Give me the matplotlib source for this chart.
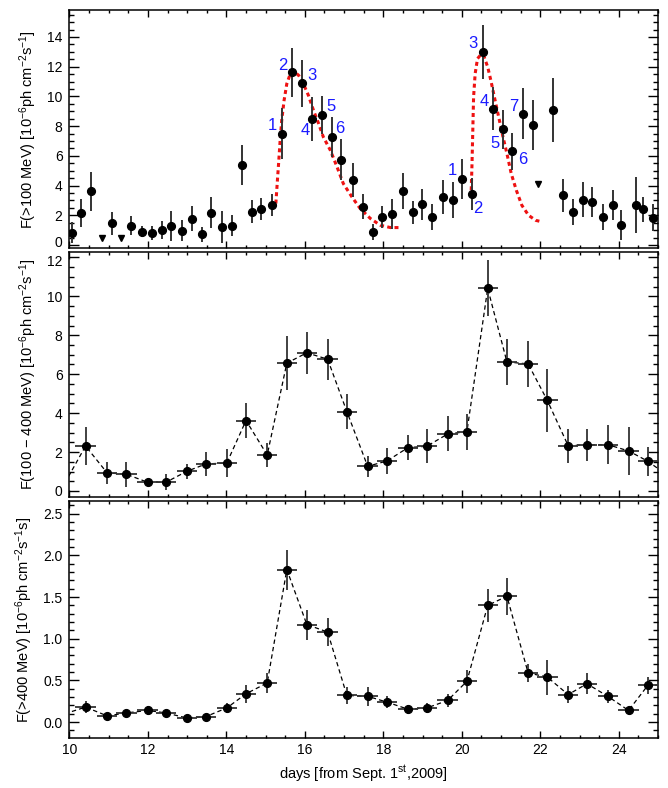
import matplotlib
matplotlib.use("Agg")
import matplotlib.pyplot as plt
from matplotlib.ticker import MultipleLocator
from matplotlib.transforms import ScaledTranslation

plt.rcParams['font.family'] = ['Liberation Sans', 'DejaVu Sans']
plt.rcParams['mathtext.fontset'] = 'custom'
plt.rcParams['mathtext.rm'] = 'Liberation Sans'
plt.rcParams['mathtext.it'] = 'Liberation Sans'

# ---------------- data: top panel F(>100 MeV) ----------------
t_x = [10.06, 10.29, 10.56, 11.08, 11.57, 11.84, 12.11, 12.35, 12.60, 12.87,
       13.13, 13.37, 13.61, 13.89, 14.15, 14.39, 14.64, 14.89, 15.17, 15.42,
       15.68, 15.92, 16.18, 16.44, 16.68, 16.93, 17.22, 17.49, 17.73, 17.96,
       18.23, 18.50, 18.75, 18.98, 19.25, 19.52, 19.78, 20.01, 20.27, 20.53,
       20.80, 21.04, 21.28, 21.55, 21.82, 22.32, 22.57, 22.84, 23.08, 23.33,
       23.59, 23.86, 24.07, 24.43, 24.61, 24.88]
t_y = [0.83, 2.15, 3.61, 1.46, 1.30, 0.90, 0.80, 0.99, 1.26, 0.97,
       1.78, 0.72, 2.18, 1.21, 1.30, 5.38, 2.24, 2.40, 2.67, 7.50,
       11.62, 10.88, 8.48, 8.73, 7.25, 5.75, 4.40, 2.58, 0.85, 1.86,
       2.09, 3.64, 2.20, 2.74, 1.89, 3.23, 3.05, 4.42, 3.41, 12.99,
       9.18, 7.79, 6.31, 8.82, 8.08, 9.09, 3.34, 2.20, 3.05, 2.92,
       1.89, 2.69, 1.35, 2.69, 2.40, 1.84]
t_err = [0.70, 0.95, 1.30, 0.76, 0.62, 0.36, 0.45, 0.60, 1.00, 0.73,
         0.81, 0.50, 1.06, 1.10, 0.73, 1.32, 0.76, 0.75, 0.73, 1.69,
         1.65, 1.57, 1.50, 1.29, 1.35, 1.40, 1.15, 0.84, 0.53, 0.73,
         1.03, 1.20, 0.78, 1.03, 0.87, 1.12, 1.22, 1.35, 1.09, 1.79,
         1.46, 1.31, 1.25, 1.72, 1.71, 2.13, 1.12, 0.87, 1.20, 1.01,
         0.85, 1.01, 1.03, 1.88, 0.84, 0.90]
ul_x = [10.82, 11.32, 21.94]
ul_y = [0.50, 0.50, 4.08]

# flare model curves
c1_x = [15.26, 15.30, 15.33, 15.37, 15.41, 15.47, 15.54, 15.63, 15.71, 15.84,
        15.96, 16.09, 16.22, 16.35, 16.47, 16.65, 16.82, 16.98, 17.20, 17.41,
        17.67, 17.92, 18.18, 18.43]
c1_y = [2.79, 4.35, 5.48, 7.05, 8.39, 9.73, 10.86, 11.53, 11.71, 11.42,
        10.86, 10.07, 9.06, 8.17, 7.27, 6.37, 5.25, 4.13, 3.23, 2.45,
        1.78, 1.33, 1.17, 1.17]
c2_x = [20.24, 20.26, 20.28, 20.30, 20.34, 20.40, 20.49, 20.57, 20.66, 20.74,
        20.83, 20.94, 21.05, 21.15, 21.26, 21.39, 21.53, 21.70, 21.88, 22.05]
c2_y = [3.68, 5.48, 7.72, 9.96, 11.53, 12.54, 12.83, 12.65, 11.98, 11.08,
        9.96, 8.61, 7.27, 6.15, 4.80, 3.68, 2.67, 2.00, 1.66, 1.55]

# numbered annotations
lab_text = ['1', '2', '3', '4', '5', '6',
            '1', '2', '3', '4', '5', '6', '7']
lab_x = [15.17, 15.43, 16.19, 16.02, 16.67, 16.90,
         19.77, 20.40, 20.28, 20.56, 20.84, 21.55, 21.32]
lab_y = [8.05, 12.09, 11.42, 7.72, 9.35, 7.87,
         4.98, 2.45, 13.55, 9.69, 6.86, 5.77, 9.33]

# ---------------- data: middle / bottom panels ----------------
b_x = [10.41, 10.96, 11.45, 11.99, 12.46, 12.99, 13.48, 14.01, 14.50, 15.04,
       15.54, 16.05, 16.58, 17.07, 17.60, 18.09, 18.63, 19.11, 19.64, 20.13,
       20.66, 21.15, 21.69, 22.18, 22.71, 23.19, 23.72, 24.25, 24.74]
b_xerr = 0.26
m_y = [2.31, 0.93, 0.86, 0.45, 0.45, 1.01, 1.39, 1.44, 3.62, 1.85,
       6.57, 7.10, 6.77, 4.08, 1.27, 1.54, 2.23, 2.30, 2.93, 3.05,
       10.41, 6.63, 6.53, 4.65, 2.33, 2.37, 2.38, 2.06, 1.53]
m_err = [0.99, 0.56, 0.64, 0.15, 0.40, 0.37, 0.62, 0.71, 0.92, 0.61,
         1.40, 1.09, 1.05, 0.88, 0.53, 0.65, 0.66, 0.88, 0.90, 0.93,
         1.44, 1.20, 1.18, 1.60, 0.87, 0.84, 1.00, 1.25, 0.74]
h_y = [0.18, 0.075, 0.11, 0.14, 0.11, 0.05, 0.067, 0.17, 0.34, 0.47,
       1.83, 1.17, 1.08, 0.32, 0.31, 0.24, 0.155, 0.17, 0.26, 0.49,
       1.40, 1.51, 0.59, 0.54, 0.33, 0.46, 0.31, 0.14, 0.44]
h_err = [0.07, 0.03, 0.03, 0.05, 0.03, 0.02, 0.025, 0.065, 0.105, 0.115,
         0.24, 0.18, 0.17, 0.105, 0.115, 0.075, 0.055, 0.06, 0.08, 0.14,
         0.20, 0.22, 0.11, 0.21, 0.10, 0.125, 0.075, 0.03, 0.105]
# neighbouring bins just outside the plotted range (line continues to edge)
edge_x = [9.88, 25.27]
m_edge = [0.40, 0.76]
h_edge = [0.10, 0.45]

top_ticks = [0, 2, 4, 6, 8, 10, 12, 14]
mid_ticks = [0, 2, 4, 6, 8, 10, 12]

# ---------------- figure ----------------
fig = plt.figure(figsize=(6.68, 7.88), dpi=100)
ax1 = fig.add_axes([0.104, 0.685, 0.881, 0.302])
ax2 = fig.add_axes([0.104, 0.369, 0.881, 0.311])
ax3 = fig.add_axes([0.104, 0.0635, 0.881, 0.3005])

ecol = '#333333'
ms = 5.6

# top
ax1.errorbar(t_x, t_y, yerr=t_err, xerr=0.06, fmt='o', color='black', ms=ms,
             ecolor=ecol, elinewidth=1.4, capsize=0, zorder=3)
ax1.plot(ul_x, ul_y, 'v', color='black', ms=5, zorder=3)
ax1.plot(c1_x, c1_y, color='#ee1111', lw=2.2, dashes=(1.3, 1.1), zorder=2)
ax1.plot(c2_x, c2_y, color='#ee1111', lw=2.2, dashes=(1.3, 1.1), zorder=2)
for s, x, y in zip(lab_text, lab_x, lab_y):
    ax1.text(x, y, s, color='#1a1aff', fontsize=12, ha='center', va='center')
ax1.set_ylim(-0.22, 15.8)
ax1.set_yticks(top_ticks)
ax1.yaxis.set_minor_locator(MultipleLocator(0.5))
ax1.set_ylabel('F(>100 MeV) [10$^{-6}$ph cm$^{-2}$s$^{-1}$]', fontsize=10.5, labelpad=6)

# middle
mx = [edge_x[0]] + b_x + [edge_x[1]]
ax2.plot(mx, [m_edge[0]] + m_y + [m_edge[1]], color='black', lw=0.9,
         dashes=(3.5, 2.5), zorder=2)
ax2.errorbar(b_x, m_y, yerr=m_err, xerr=b_xerr, fmt='o', color='black', ms=ms,
             ecolor=ecol, elinewidth=1.3, capsize=0, zorder=3)
ax2.set_ylim(-0.32, 12.27)
ax2.set_yticks(mid_ticks)
ax2.yaxis.set_minor_locator(MultipleLocator(0.5))
ax2.set_ylabel('F(100 $-$ 400 MeV) [10$^{-6}$ph cm$^{-2}$s$^{-1}$]', fontsize=10.5, labelpad=6)

# bottom
ax3.plot(mx, [h_edge[0]] + h_y + [h_edge[1]], color='black', lw=0.9,
         dashes=(3.5, 2.5), zorder=2)
ax3.errorbar(b_x, h_y, yerr=h_err, xerr=b_xerr, fmt='o', color='black', ms=ms,
             ecolor=ecol, elinewidth=1.3, capsize=0, zorder=3)
ax3.set_ylim(-0.19, 2.65)
ax3.yaxis.set_major_locator(MultipleLocator(0.5))
ax3.yaxis.set_minor_locator(MultipleLocator(0.1))
ax3.yaxis.set_major_formatter(matplotlib.ticker.FormatStrFormatter('%.1f'))
ax3.set_ylabel('F(>400 MeV) [10$^{-6}$ph cm$^{-2}$s$^{-1}$s]', fontsize=10.5, labelpad=6)
ax3.set_xlabel('days [from Sept. 1$^{\\rm st}$,2009]', fontsize=10.5, labelpad=5)

for ax in (ax1, ax2, ax3):
    ax.set_xlim(10, 25)
    ax.xaxis.set_major_locator(MultipleLocator(2))
    ax.xaxis.set_minor_locator(MultipleLocator(0.5))
    ax.tick_params(which='both', direction='in', top=True, right=True,
                   labelsize=10, width=1.0)
    ax.tick_params(axis='y', which='major', length=7, pad=5)
    ax.tick_params(axis='y', which='minor', length=3.6)
    ax.tick_params(axis='x', which='major', length=5)
    ax.tick_params(axis='x', which='minor', length=2.5)
    for sp in ax.spines.values():
        sp.set_linewidth(1.1)
for ax in (ax1, ax2):
    ax.tick_params(labelbottom=False)

# nudge the two labels that sit at the panel junction apart slightly
fig.canvas.draw()
for tk in ax1.yaxis.get_major_ticks():
    if abs(tk.get_loc() - 0) < 1e-9:
        tk.label1.set_transform(tk.label1.get_transform() +
                                ScaledTranslation(0, 0.03, fig.dpi_scale_trans))
for tk in ax2.yaxis.get_major_ticks():
    if abs(tk.get_loc() - 12) < 1e-9:
        tk.label1.set_transform(tk.label1.get_transform() +
                                ScaledTranslation(0, -0.03, fig.dpi_scale_trans))

fig.savefig('out.png', dpi=100)
